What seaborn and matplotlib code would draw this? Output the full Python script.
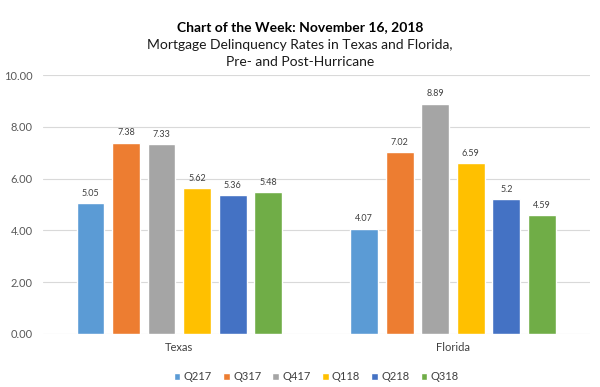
import matplotlib
matplotlib.use("Agg")
import matplotlib.pyplot as plt
import seaborn as sns
import pandas as pd

categories = ["Texas", "Florida"]
quarters = ["Q217", "Q317", "Q417", "Q118", "Q218", "Q318"]
texas = [5.05, 7.38, 7.33, 5.62, 5.36, 5.48]
florida = [4.07, 7.02, 8.89, 6.59, 5.2, 4.59]
labels_tx = ["5.05", "7.38", "7.33", "5.62", "5.36", "5.48"]
labels_fl = ["4.07", "7.02", "8.89", "6.59", "5.2", "4.59"]
colors = ["#5B9BD5", "#ED7D31", "#A5A5A5", "#FFC000", "#4472C4", "#70AD47"]

rows = []
for q, v in zip(quarters, texas):
    rows.append({"State": "Texas", "Quarter": q, "Rate": v})
for q, v in zip(quarters, florida):
    rows.append({"State": "Florida", "Quarter": q, "Rate": v})
df = pd.DataFrame(rows)

sns.set_theme(style="white")
plt.rcParams["font.family"] = ["Lato", "DejaVu Sans"]

fig = plt.figure(figsize=(6, 3.87), dpi=100)
ax = fig.add_axes([0.071, 0.137, 0.912, 0.669])

sns.barplot(data=df, x="State", y="Rate", hue="Quarter", order=categories,
            hue_order=quarters, palette=colors, width=0.78, gap=0.22,
            ax=ax, saturation=1, legend=True)

for i, cont in enumerate(ax.containers):
    labs = [labels_tx[i], labels_fl[i]]
    ax.bar_label(cont, labels=labs, padding=4, fontsize=6.5, color="#404040")

ax.set_ylim(0, 10)
ax.set_xlim(-0.5, 1.5)
ax.set_yticks([0, 2, 4, 6, 8, 10])
ax.set_yticklabels([f"{t:.2f}" for t in [0, 2, 4, 6, 8, 10]], fontsize=8, color="#595959")
ax.tick_params(axis="x", labelsize=8, labelcolor="#404040", length=0, pad=6)
ax.tick_params(axis="y", length=0, pad=7)
ax.yaxis.grid(True, color="#D9D9D9", linewidth=0.8)
ax.set_axisbelow(True)
for s in ax.spines.values():
    s.set_visible(False)
ax.set_xlabel("")
ax.set_ylabel("")

leg = ax.legend(loc="upper center", bbox_to_anchor=(0.5, -0.105), ncol=6,
                frameon=False, fontsize=8, handlelength=0.6, handleheight=0.6,
                handletextpad=0.3, columnspacing=1.0)
for t in leg.get_texts():
    t.set_color("#404040")

fig.text(0.5, 0.93, "Chart of the Week: November 16, 2018", ha="center", va="center",
         fontsize=10, fontweight="bold", color="#000000")
fig.text(0.5, 0.883, "Mortgage Delinquency Rates in Texas and Florida,", ha="center",
         va="center", fontsize=10, color="#1a1a1a")
fig.text(0.5, 0.84, "Pre- and Post-Hurricane", ha="center", va="center",
         fontsize=10, color="#1a1a1a")

fig.savefig("out.png", dpi=100, facecolor="white")
